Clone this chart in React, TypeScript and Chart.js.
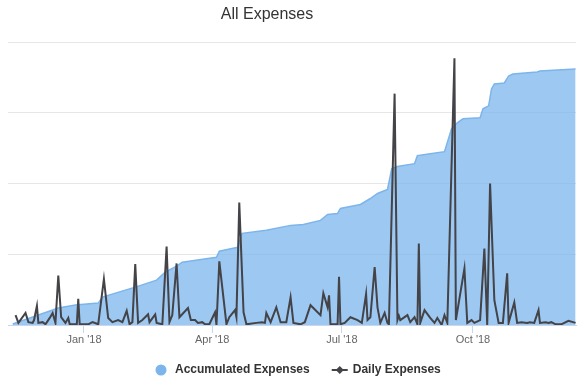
import React, { useEffect, useRef } from "react";
import { Chart, registerables } from "chart.js";

Chart.register(...registerables);

// Days are counted from 2018-01-01 (day 0).
const chartTitle = "All Expenses";
const accumulatedLabel = "Accumulated Expenses";
const dailyLabel = "Daily Expenses";

const accDays = [-50, -36, -18, -6, 10, 13, 36, 51, 57, 65, 69, 93, 95, 108, 111, 128, 145, 154, 166, 171, 178, 180, 194, 201, 206, 213, 216, 220, 232, 234, 243, 253, 258, 262, 266, 278, 280, 284, 286, 288, 295, 298, 301, 318, 320, 345];
const accValues = [15, 113, 239, 282, 310, 394, 535, 634, 746, 831, 887, 957, 1042, 1098, 1295, 1338, 1408, 1422, 1478, 1563, 1577, 1647, 1704, 1788, 1859, 1915, 2211, 2239, 2281, 2394, 2422, 2450, 2774, 2858, 2915, 2929, 3055, 3098, 3337, 3407, 3421, 3520, 3548, 3576, 3590, 3619];

const dailyDays = [-48, -46, -41, -39, -36, -35, -33, -32, -29, -27, -24, -22, -20, -18, -16, -13, -11, -10, -5, -4, -3, 3, 6, 10, 14, 17, 20, 24, 27, 30, 32, 34, 36, 38, 41, 45, 46, 50, 51, 55, 58, 60, 62, 65, 67, 73, 75, 78, 80, 83, 85, 88, 92, 93, 95, 100, 102, 106, 107, 109, 112, 114, 121, 125, 127, 128, 131, 135, 138, 142, 145, 147, 152, 155, 159, 166, 168, 171, 172, 173, 178, 179, 180, 183, 187, 192, 195, 198, 199, 201, 204, 206, 208, 211, 213, 214, 218, 220, 221, 222, 227, 229, 232, 234, 235, 236, 239, 243, 246, 248, 251, 253, 255, 260, 261, 267, 269, 272, 274, 278, 281, 283, 285, 288, 291, 294, 297, 298, 302, 304, 307, 311, 313, 316, 319, 320, 324, 326, 328, 331, 335, 340, 345];
const dailyValues = [14, 3, 17, 4, 3, 7, 27, 3, 4, 1, 10, 17, 3, 70, 11, 3, 10, 1, 1, 37, 1, 1, 4, 1, 65, 10, 4, 7, 4, 20, 1, 4, 86, 3, 7, 15, 4, 15, 3, 1, 111, 4, 14, 87, 11, 24, 7, 7, 3, 4, 1, 1, 18, 0, 90, 1, 11, 21, 11, 173, 18, 1, 3, 4, 3, 17, 4, 25, 4, 4, 39, 3, 1, 4, 28, 14, 45, 25, 42, 1, 1, 68, 1, 3, 11, 7, 3, 44, 7, 11, 82, 25, 3, 17, 3, 1, 327, 7, 13, 7, 14, 4, 11, 1, 115, 3, 21, 10, 3, 10, 0, 14, 3, 377, 7, 80, 3, 7, 3, 7, 108, 0, 200, 35, 3, 3, 73, 3, 32, 3, 4, 3, 4, 3, 21, 3, 4, 3, 4, 1, 1, 6, 3];

const tickDays = [0, 90, 181, 273];
const tickLabels = ["Jan '18", "Apr '18", "Jul '18", "Oct '18"];

const FONT = '"Liberation Sans", Arial, Helvetica, sans-serif';

const overlayPlugin = {
  id: "overlay",
  afterDraw(chart: any) {
    const ctx = chart.ctx as CanvasRenderingContext2D;
    ctx.save();
    // title
    ctx.fillStyle = "#333333";
    ctx.font = `16px ${FONT}`;
    ctx.textAlign = "center";
    ctx.textBaseline = "middle";
    ctx.fillText(chartTitle, 267, 15);

    // legend
    const y = 370;
    ctx.font = `bold 12px ${FONT}`;
    ctx.textAlign = "left";
    const ds = chart.data.datasets;
    let x = 155;
    ctx.fillStyle = "#7cb5ec";
    ctx.beginPath();
    ctx.arc(x + 6, y, 5.5, 0, Math.PI * 2);
    ctx.fill();
    ctx.fillStyle = "#333333";
    ctx.fillText(ds[0].label, x + 20, y);
    x += 20 + ctx.measureText(ds[0].label).width + 22;

    ctx.strokeStyle = "#434348";
    ctx.lineWidth = 2;
    ctx.beginPath();
    ctx.moveTo(x, y);
    ctx.lineTo(x + 16, y);
    ctx.stroke();
    ctx.fillStyle = "#434348";
    ctx.beginPath();
    ctx.moveTo(x + 8, y - 4);
    ctx.lineTo(x + 12, y);
    ctx.lineTo(x + 8, y + 4);
    ctx.lineTo(x + 4, y);
    ctx.closePath();
    ctx.fill();
    ctx.fillStyle = "#333333";
    ctx.fillText(ds[1].label, x + 21, y);
    ctx.restore();
  },
};

export default function App() {
  const canvasRef = useRef<HTMLCanvasElement | null>(null);

  useEffect(() => {
    if (!canvasRef.current) return;
    const chart = new Chart(canvasRef.current, {
      type: "line",
      data: {
        datasets: [
          {
            label: accumulatedLabel,
            data: accDays.map((d, i) => ({ x: d, y: accValues[i] })),
            yAxisID: "y",
            fill: "origin",
            backgroundColor: "rgba(124,181,236,0.75)",
            borderColor: "#7cb5ec",
            borderWidth: 1.5,
            pointRadius: 0,
            tension: 0,
            order: 2,
          },
          {
            label: dailyLabel,
            data: dailyDays.map((d, i) => ({ x: d, y: dailyValues[i] })),
            yAxisID: "y1",
            fill: false,
            borderColor: "#434348",
            borderWidth: 2,
            pointRadius: 0,
            tension: 0,
            order: 1,
          },
        ],
      },
      options: {
        responsive: false,
        animation: false,
        devicePixelRatio: 1,
        layout: { padding: { top: 42, left: 8, right: 5, bottom: 42 } },
        plugins: {
          legend: { display: false },
          title: { display: false },
          tooltip: { enabled: false },
        },
        scales: {
          x: {
            type: "linear",
            min: -53.3,
            max: 345.3,
            afterBuildTicks: (s: any) => {
              s.ticks = tickDays.map((v) => ({ value: v }));
            },
            afterFit: (s: any) => {
              s.height = 20;
            },
            ticks: {
              autoSkip: false,
              maxRotation: 0,
              padding: 0,
              color: "#666666",
              font: { size: 11, family: FONT },
              callback: (v: any) => {
                const i = tickDays.indexOf(Number(v));
                return i >= 0 ? tickLabels[i] : "";
              },
            },
            grid: {
              drawOnChartArea: false,
              drawTicks: true,
              tickLength: 8,
              color: "#ccd6eb",
            },
            border: { color: "#ccd6eb", width: 1 },
          },
          y: {
            min: 0,
            max: 4000,
            ticks: { stepSize: 1000, display: false },
            grid: { color: "#e6e6e6", drawTicks: false },
            border: { display: false },
            afterFit: (s: any) => {
              s.width = 0;
            },
          },
          y1: {
            display: false,
            min: 0,
            max: 400,
          },
        },
      },
      plugins: [overlayPlugin],
    } as any);
    return () => chart.destroy();
  }, []);

  return (
    <div style={{ position: "absolute", left: 0, top: 0, width: 581, height: 387, background: "#fff" }}>
      <canvas ref={canvasRef} width={581} height={387} style={{ display: "block" }} />
    </div>
  );
}
